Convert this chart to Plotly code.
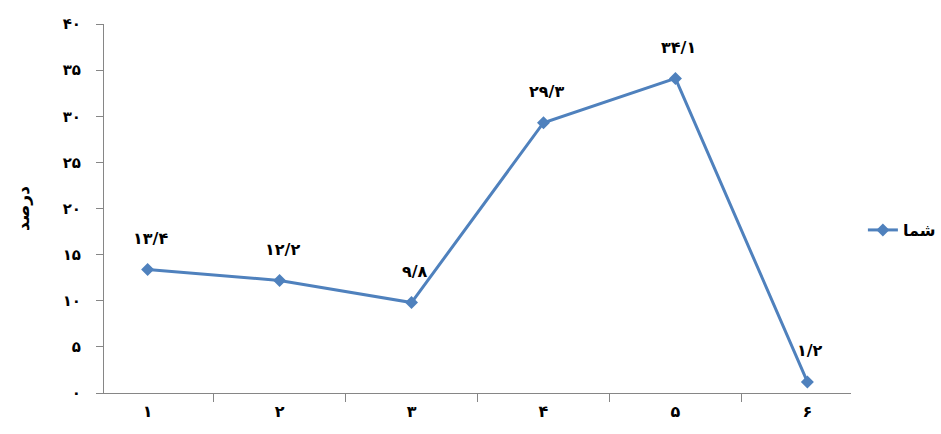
import plotly.graph_objects as go

# Category labels (Persian digits) and percentages
categories = ["۱", "۲", "۳", "۴", "۵", "۶"]
values = [13.4, 12.2, 9.8, 29.3, 34.1, 1.2]
series_name = "شما"
y_title = "درصد"
y_tick_values = [0, 5, 10, 15, 20, 25, 30, 35, 40]

PERSIAN_DIGITS = str.maketrans("0123456789", "۰۱۲۳۴۵۶۷۸۹")


def to_persian(num):
    text = ("%g" % num).replace(".", "/")
    return text.translate(PERSIAN_DIGITS)


y_tick_text = [to_persian(v) for v in y_tick_values]

LINE_COLOR = "#4F81BD"
AXIS_COLOR = "#868686"
FONT = "DejaVu Sans"

fig = go.Figure()
fig.add_trace(go.Scatter(
    x=categories,
    y=values,
    mode="lines+markers",
    name="<b>%s</b>" % series_name,
    line=dict(color=LINE_COLOR, width=3),
    marker=dict(symbol="diamond", size=10, color=LINE_COLOR),
))

for cat, val in zip(categories, values):
    fig.add_annotation(
        x=cat, y=val, text="<b>%s</b>" % to_persian(val),
        showarrow=False, yshift=31, xshift=3,
        font=dict(family=FONT, size=16, color="#000000"),
    )

fig.update_layout(
    width=941, height=434,
    margin=dict(l=104, r=90, t=24, b=41),
    paper_bgcolor="white", plot_bgcolor="white",
    font=dict(family=FONT, size=14, color="#000000"),
    showlegend=True,
    legend=dict(
        xref="container", yref="container",
        x=0.917, y=0.47, xanchor="left", yanchor="middle",
        font=dict(family=FONT, size=16, color="#000000"),
        bgcolor="rgba(0,0,0,0)",
    ),
)

fig.update_xaxes(
    type="category",
    tickson="boundaries",
    ticks="outside", ticklen=8, tickcolor=AXIS_COLOR, tickwidth=1,
    showline=True, linecolor=AXIS_COLOR, linewidth=1,
    showgrid=False, zeroline=False,
    tickvals=categories, ticktext=["<b>%s</b>" % c for c in categories],
    tickfont=dict(family=FONT, size=16, color="#000000"),
    ticklabelstandoff=4,
)

fig.update_yaxes(
    range=[0, 40],
    tickmode="array", tickvals=y_tick_values, ticktext=["<b>%s</b>" % t for t in y_tick_text],
    ticks="outside", ticklen=7, tickcolor=AXIS_COLOR, tickwidth=1,
    showline=True, linecolor=AXIS_COLOR, linewidth=1,
    showgrid=False, zeroline=False,
    tickfont=dict(family=FONT, size=15, color="#000000"),
    ticklabelstandoff=12,
    title=dict(text="<b>%s</b>" % y_title, font=dict(family=FONT, size=17, color="#000000"), standoff=28),
)

fig.write_html("out.html")
